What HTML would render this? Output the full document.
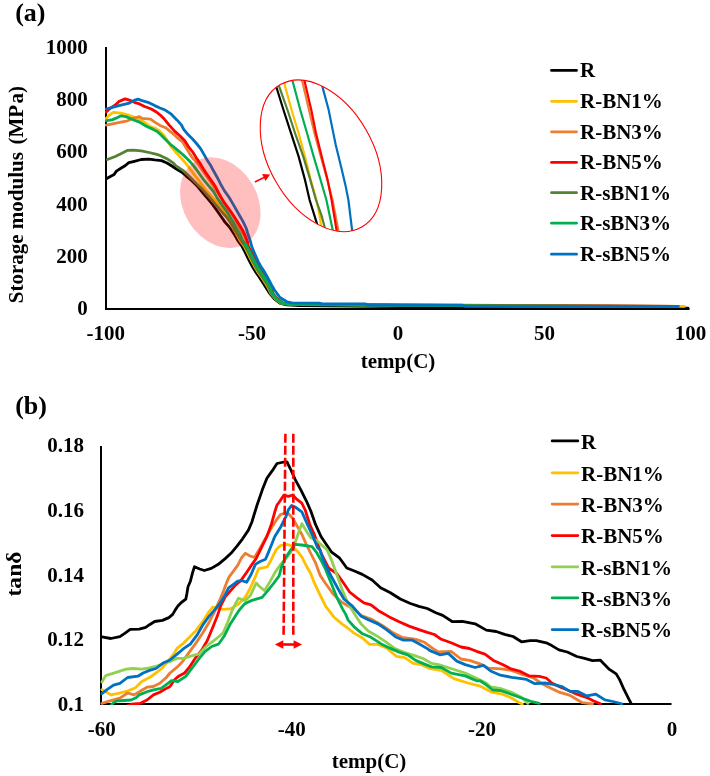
<!DOCTYPE html>
<html><head><meta charset="utf-8"><style>
html,body{margin:0;padding:0;background:#fff;width:710px;height:776px;overflow:hidden;}
svg{display:block;will-change:transform;font-family:"Liberation Serif", serif;font-weight:bold;}
</style></head><body>
<svg width="710" height="776" viewBox="0 0 710 776">
<rect width="710" height="776" fill="#fff"/>
<defs><clipPath id="clipZ"><ellipse cx="321" cy="155.8" rx="52" ry="82" transform="rotate(-29.7 321 155.8)"/></clipPath><clipPath id="clipA"><rect x="105" y="40" width="585" height="270"/></clipPath><clipPath id="clipB"><rect x="100" y="430" width="572" height="275"/></clipPath></defs>
<text x="15.2" y="21.3" font-size="26" text-anchor="start" >(a)</text>
<text x="87.8" y="53.7" font-size="21" text-anchor="end" >1000</text>
<text x="87.8" y="106.0" font-size="21" text-anchor="end" >800</text>
<text x="87.8" y="158.4" font-size="21" text-anchor="end" >600</text>
<text x="87.8" y="210.7" font-size="21" text-anchor="end" >400</text>
<text x="87.8" y="263.1" font-size="21" text-anchor="end" >200</text>
<text x="87.8" y="315.4" font-size="21" text-anchor="end" >0</text>
<text x="105.7" y="340.4" font-size="21" text-anchor="middle" >-100</text>
<text x="251.9" y="340.4" font-size="21" text-anchor="middle" >-50</text>
<text x="398.1" y="340.4" font-size="21" text-anchor="middle" >0</text>
<text x="544.4" y="340.4" font-size="21" text-anchor="middle" >50</text>
<text x="690.6" y="340.4" font-size="21" text-anchor="middle" >100</text>
<text x="398" y="368.4" font-size="21" text-anchor="middle" >temp(C)</text>
<text transform="translate(23.2,303.2) rotate(-90)" font-size="21">Storage modulus</text>
<text transform="translate(23.2,144.6) rotate(-90)" font-size="21">(MP</text>
<text transform="translate(23.2,103.4) rotate(-90)" font-size="21">a)</text>
<path d="M106,47 L106,309 L689.5,309" fill="none" stroke="#000" stroke-width="2"/>
<g clip-path="url(#clipA)">
<path d="M106.8,178.5 L110.8,176.2 L114.1,174.5 L116.4,171.1 L120.9,168.3 L125.4,165.5 L128.8,162.7 L134.4,161.3 L141.2,159.5 L149.1,159.1 L154.7,159.9 L161.5,160.6 L167.0,163.0 L172.7,166.5 L176.0,168.9 L181.9,172.3 L185.9,175.8 L191.8,180.7 L197.7,186.6 L202.6,192.5 L207.5,198.4 L212.5,204.4 L217.4,211.3 L222.3,218.2 L225.0,222.1 L229.9,227.7 L234.2,234.1 L237.7,240.4 L241.9,246.1 L245.2,252.4 L248.6,259.4 L252.4,266.5 L256.0,272.5 L259.2,277.0 L265.0,286.0 L269.7,293.4 L274.5,299.2 L280.3,303.3 L286.9,304.8 L300.0,305.6 L400.0,306.6 L500.0,307.3 L600.0,307.8 L688.0,308.2" fill="none" stroke="#000000" stroke-width="2.8" stroke-linejoin="round" stroke-linecap="round" />
<path d="M106.0,118.7 L109.0,115.4 L113.3,112.4 L120.9,113.2 L127.7,114.9 L133.6,117.0 L139.5,119.2 L145.4,123.0 L149.6,126.3 L154.7,128.0 L158.9,130.6 L164.0,135.5 L166.8,140.0 L170.5,145.8 L176.1,152.5 L182.9,160.0 L187.8,165.9 L193.7,173.8 L199.7,181.7 L205.6,189.6 L211.5,196.5 L217.4,203.4 L223.3,210.3 L227.8,217.0 L230.0,220.0 L232.0,226.0 L236.0,233.0 L239.9,240.4 L244.1,246.1 L247.4,252.4 L250.8,259.4 L254.6,266.5 L258.2,272.5 L261.4,277.0 L267.2,286.0 L270.8,293.4 L275.6,299.2 L281.4,303.3 L288.0,304.0 L300.0,304.4 L400.0,305.2 L500.0,305.7 L600.0,306.1 L684.5,306.4" fill="none" stroke="#FFC000" stroke-width="2.8" stroke-linejoin="round" stroke-linecap="round" />
<path d="M106.1,125.1 L112.5,123.8 L120.9,122.1 L127.7,120.8 L132.7,118.3 L139.5,116.6 L142.0,118.3 L150.5,119.2 L154.7,122.1 L158.9,124.6 L160.0,125.5 L165.6,127.7 L171.3,132.3 L176.9,137.3 L182.5,141.8 L185.9,147.5 L189.3,153.1 L192.7,158.2 L197.4,163.0 L201.9,169.5 L206.4,176.0 L210.9,182.5 L215.4,189.0 L219.9,196.0 L224.4,203.0 L228.9,210.0 L233.7,217.0 L240.2,229.0 L243.2,234.0 L245.5,239.0 L247.5,245.0 L251.0,252.4 L254.4,259.4 L258.2,266.5 L261.8,272.5 L265.0,277.0 L270.8,286.0 L272.6,293.4 L277.4,299.2 L283.2,303.3 L290.0,303.8 L300.0,304.3 L400.0,305.1 L500.0,305.6 L600.0,306.0 L678.0,306.3" fill="none" stroke="#ED7D31" stroke-width="2.8" stroke-linejoin="round" stroke-linecap="round" />
<path d="M106.0,112.1 L110.0,108.5 L115.0,105.2 L119.2,101.4 L125.1,98.9 L129.4,100.1 L134.4,102.3 L139.5,103.9 L144.6,106.5 L151.3,109.0 L156.4,112.0 L160.0,114.8 L164.5,119.3 L169.0,124.9 L174.6,131.1 L180.3,136.2 L184.8,140.7 L188.2,146.3 L192.7,152.0 L196.1,157.6 L200.0,163.2 L203.4,168.9 L206.6,173.8 L211.5,180.7 L215.4,186.6 L218.4,192.5 L223.3,201.4 L229.2,209.3 L233.5,215.5 L236.3,220.0 L239.5,225.0 L242.5,230.0 L244.5,234.0 L246.3,238.5 L247.8,242.5 L248.2,246.1 L251.5,252.4 L254.9,259.4 L258.7,266.5 L262.3,272.5 L265.5,277.0 L271.3,286.0 L272.8,293.4 L277.6,299.2 L283.4,303.3 L290.0,303.6 L300.0,304.2 L400.0,305.0 L500.0,305.5 L600.0,305.9 L678.0,306.5" fill="none" stroke="#FF0000" stroke-width="2.8" stroke-linejoin="round" stroke-linecap="round" />
<path d="M107.4,159.5 L115.3,156.5 L120.9,153.7 L127.7,150.3 L133.3,150.1 L141.2,150.8 L149.1,152.5 L155.8,154.2 L160.0,155.4 L166.8,158.7 L173.5,163.2 L176.0,165.9 L182.9,170.4 L188.8,175.8 L195.7,182.7 L202.6,189.6 L209.5,197.5 L215.4,204.4 L221.4,211.3 L227.3,218.2 L232.2,225.1 L235.5,231.0 L238.5,236.0 L241.2,240.4 L245.0,246.1 L248.3,252.4 L251.7,259.4 L255.5,266.5 L259.1,272.5 L262.3,277.0 L268.1,286.0 L271.2,293.4 L276.1,299.2 L281.9,303.3 L289.0,304.2 L300.0,304.6 L400.0,305.4 L500.0,305.9 L600.0,306.3 L678.0,306.6" fill="none" stroke="#548235" stroke-width="2.8" stroke-linejoin="round" stroke-linecap="round" />
<path d="M106.1,120.8 L112.5,119.6 L116.7,117.9 L120.9,115.8 L126.0,116.6 L131.9,119.2 L139.5,122.1 L146.3,126.3 L152.2,128.9 L157.2,131.4 L160.5,134.5 L164.5,138.5 L170.1,144.1 L175.8,148.6 L182.5,154.2 L188.5,160.0 L193.7,165.9 L198.7,172.8 L203.6,179.7 L208.5,185.6 L213.5,191.5 L217.4,198.4 L222.3,205.4 L227.3,212.3 L231.3,219.0 L234.0,223.5 L237.0,229.2 L240.0,234.0 L242.6,240.4 L246.8,246.1 L250.1,252.4 L253.5,259.4 L257.3,266.5 L260.9,272.5 L264.1,277.0 L269.9,286.0 L272.1,293.4 L276.9,299.2 L282.8,303.3 L289.0,304.0 L300.0,304.5 L400.0,305.3 L500.0,305.8 L600.0,306.2 L678.0,306.5" fill="none" stroke="#00B050" stroke-width="2.8" stroke-linejoin="round" stroke-linecap="round" />
<path d="M106.1,109.0 L112.5,107.3 L120.9,105.2 L129.4,103.1 L133.6,100.6 L137.8,99.1 L142.0,100.6 L148.0,102.3 L154.7,105.6 L160.0,108.0 L165.6,110.3 L171.3,114.2 L176.9,119.9 L181.4,124.9 L183.7,129.4 L187.0,133.4 L191.5,137.9 L196.1,143.0 L200.6,148.6 L204.5,155.4 L207.3,160.4 L210.7,165.5 L213.5,170.8 L217.4,177.7 L220.4,183.7 L224.3,190.6 L229.2,197.5 L233.2,204.4 L237.1,211.3 L241.1,218.2 L244.0,223.5 L246.3,228.5 L247.6,233.0 L249.3,238.0 L250.6,242.0 L251.9,247.0 L254.0,252.0 L256.0,256.5 L258.2,261.6 L260.6,266.0 L263.3,270.0 L266.2,275.0 L268.9,280.0 L271.5,285.0 L274.5,290.0 L280.0,297.5 L286.9,301.8 L292.0,302.8 L319.0,303.1 L322.4,303.9 L365.0,303.9 L368.0,305.1 L462.0,305.1 L465.0,306.3 L678.0,306.3" fill="none" stroke="#0070C0" stroke-width="2.8" stroke-linejoin="round" stroke-linecap="round" />
</g>
<ellipse cx="220.3" cy="202.6" rx="37" ry="48.1" transform="rotate(-31 220.3 202.6)" fill="rgb(255,0,0)" fill-opacity="0.25"/>
<g clip-path="url(#clipZ)">
<path d="M270.5,68.0 L276.8,88.5 L283.5,110.0 L291.0,133.2 L298.6,156.4 L304.9,179.6 L309.6,200.0 L316.5,222.1 L320.0,236.0" fill="none" stroke="#000000" stroke-width="2.2" stroke-linejoin="round" stroke-linecap="round" />
<path d="M279.0,66.0 L284.4,83.9 L291.6,110.0 L298.6,133.2 L304.9,156.4 L310.7,179.6 L316.5,200.0 L319.6,215.4 L322.5,236.0" fill="none" stroke="#FFC000" stroke-width="2.2" stroke-linejoin="round" stroke-linecap="round" />
<path d="M297.5,66.0 L302.3,81.3 L309.0,110.0 L314.5,133.2 L320.8,156.4 L327.3,179.6 L332.5,200.0 L339.5,236.0" fill="none" stroke="#ED7D31" stroke-width="2.2" stroke-linejoin="round" stroke-linecap="round" />
<path d="M300.0,66.0 L304.6,81.3 L311.3,110.0 L316.0,133.2 L321.7,156.4 L327.5,179.6 L331.6,200.0 L337.5,236.0" fill="none" stroke="#FF0000" stroke-width="2.2" stroke-linejoin="round" stroke-linecap="round" />
<path d="M273.5,66.0 L279.3,86.8 L287.5,110.0 L295.0,133.0 L303.2,156.4 L310.0,179.0 L316.0,200.0 L321.5,215.4 L327.0,236.0" fill="none" stroke="#548235" stroke-width="2.2" stroke-linejoin="round" stroke-linecap="round" />
<path d="M288.0,66.0 L292.8,81.8 L300.3,110.0 L307.0,133.0 L313.6,156.4 L320.0,178.0 L326.4,200.0 L332.5,228.9 L334.0,236.0" fill="none" stroke="#00B050" stroke-width="2.2" stroke-linejoin="round" stroke-linecap="round" />
<path d="M319.0,72.0 L322.8,88.1 L328.7,110.0 L331.0,121.6 L335.7,144.8 L341.4,168.0 L345.5,185.4 L348.4,200.0 L352.0,229.3 L352.8,236.0" fill="none" stroke="#0070C0" stroke-width="2.2" stroke-linejoin="round" stroke-linecap="round" />
</g>
<ellipse cx="321" cy="155.8" rx="52" ry="82" transform="rotate(-29.7 321 155.8)" fill="none" stroke="#FF0000" stroke-width="1.1"/>
<line x1="254.9" y1="182" x2="264" y2="177.5" stroke="#FF0000" stroke-width="1.5"/>
<path d="M270.1,174.4 L262.1,174.1 L265.5,180.9 Z" fill="#FF0000"/>
<line x1="551.5" y1="70.4" x2="576.5" y2="70.4" stroke="#000000" stroke-width="2.8" stroke-linecap="round"/>
<text x="580" y="77.2" font-size="21" text-anchor="start" >R</text>
<line x1="551.5" y1="101.3" x2="576.5" y2="101.3" stroke="#FFC000" stroke-width="2.8" stroke-linecap="round"/>
<text x="580" y="108.1" font-size="21" text-anchor="start" >R-BN1%</text>
<line x1="551.5" y1="131.8" x2="576.5" y2="131.8" stroke="#ED7D31" stroke-width="2.8" stroke-linecap="round"/>
<text x="580" y="138.6" font-size="21" text-anchor="start" >R-BN3%</text>
<line x1="551.5" y1="162.4" x2="576.5" y2="162.4" stroke="#FF0000" stroke-width="2.8" stroke-linecap="round"/>
<text x="580" y="169.2" font-size="21" text-anchor="start" >R-BN5%</text>
<line x1="551.5" y1="192.7" x2="576.5" y2="192.7" stroke="#548235" stroke-width="2.8" stroke-linecap="round"/>
<text x="580" y="199.5" font-size="21" text-anchor="start" >R-sBN1%</text>
<line x1="551.5" y1="223.2" x2="576.5" y2="223.2" stroke="#00B050" stroke-width="2.8" stroke-linecap="round"/>
<text x="580" y="230.0" font-size="21" text-anchor="start" >R-sBN3%</text>
<line x1="551.5" y1="254.2" x2="576.5" y2="254.2" stroke="#0070C0" stroke-width="2.8" stroke-linecap="round"/>
<text x="580" y="261.0" font-size="21" text-anchor="start" >R-sBN5%</text>
<text x="15.2" y="414.2" font-size="26" text-anchor="start" >(b)</text>
<text x="84" y="452.3" font-size="21" text-anchor="end" >0.18</text>
<text x="84" y="517.0" font-size="21" text-anchor="end" >0.16</text>
<text x="84" y="582.0" font-size="21" text-anchor="end" >0.14</text>
<text x="84" y="646.4" font-size="21" text-anchor="end" >0.12</text>
<text x="84" y="710.7" font-size="21" text-anchor="end" >0.1</text>
<text x="101.8" y="735.6" font-size="21" text-anchor="middle" >-60</text>
<text x="291.8" y="735.6" font-size="21" text-anchor="middle" >-40</text>
<text x="481.9" y="735.6" font-size="21" text-anchor="middle" >-20</text>
<text x="671.9" y="735.6" font-size="21" text-anchor="middle" >0</text>
<text x="369" y="767.7" font-size="21" text-anchor="middle" >temp(C)</text>
<text transform="translate(21,574) rotate(-90)" font-size="21" text-anchor="middle" textLength="45" lengthAdjust="spacingAndGlyphs">tanδ</text>
<path d="M101,446 L101,704 L671.5,704" fill="none" stroke="#000" stroke-width="2"/>
<g clip-path="url(#clipB)">
<path d="M101.9,636.9 L110.9,638.5 L119.9,636.7 L125.1,633.1 L130.2,629.4 L139.2,629.2 L145.7,627.3 L149.5,624.7 L154.7,621.5 L162.4,620.4 L168.9,617.6 L172.7,614.4 L175.3,609.9 L177.9,606.0 L181.3,602.5 L185.8,599.2 L186.9,593.5 L188.0,586.8 L190.4,581.2 L192.8,571.9 L194.5,566.7 L199.7,569.0 L204.3,570.5 L211.3,568.4 L218.3,564.3 L225.2,558.6 L231.0,553.3 L236.8,546.4 L242.6,538.8 L248.4,530.1 L251.9,522.0 L254.3,514.0 L257.1,505.0 L262.4,489.6 L266.9,478.3 L272.5,470.4 L277.0,463.5 L284.0,462.0 L287.0,461.8 L290.6,469.3 L295.1,479.4 L300.7,489.6 L306.3,500.8 L310.8,511.0 L315.4,524.2 L321.0,536.5 L325.5,543.3 L331.3,551.8 L339.7,558.2 L346.8,568.0 L353.8,570.8 L362.3,574.4 L372.1,580.0 L380.6,587.7 L390.4,592.7 L400.3,599.0 L410.4,603.5 L418.9,606.3 L427.3,608.5 L435.8,612.7 L442.7,615.4 L452.5,621.7 L462.4,621.3 L475.1,623.8 L486.3,630.1 L496.2,631.5 L504.6,634.4 L513.1,636.5 L521.5,641.8 L530.0,640.7 L536.3,640.7 L546.2,642.8 L551.8,645.6 L558.9,649.9 L567.3,652.0 L576.8,656.5 L584.6,658.4 L592.5,660.6 L600.4,660.2 L603.8,663.8 L609.4,669.4 L616.2,673.9 L619.6,679.6 L624.1,689.7 L628.6,698.7 L631.4,703.8" fill="none" stroke="#000000" stroke-width="2.8" stroke-linejoin="round" stroke-linecap="round" />
<path d="M101.9,689.7 L105.7,691.7 L110.9,694.9 L117.3,693.6 L127.6,691.0 L135.4,687.8 L141.8,681.4 L149.5,677.5 L156.0,673.0 L162.4,667.8 L168.9,660.1 L174.0,653.7 L176.8,648.7 L182.4,644.2 L189.2,637.5 L195.9,630.7 L202.7,621.7 L208.3,612.7 L212.8,607.0 L218.5,608.7 L224.1,609.3 L230.8,608.7 L235.4,605.9 L238.5,604.1 L245.2,597.3 L250.3,588.0 L254.5,578.7 L258.7,568.6 L261.3,568.1 L267.2,566.9 L270.6,561.0 L273.9,554.2 L275.9,550.1 L280.4,545.6 L286.1,544.4 L291.7,545.6 L297.3,551.2 L301.8,556.8 L306.3,565.8 L310.8,573.7 L314.2,582.7 L320.0,594.8 L325.6,606.1 L334.1,617.3 L342.5,624.4 L347.0,627.5 L354.1,633.1 L362.5,638.0 L369.6,644.4 L378.0,644.4 L386.5,647.9 L396.3,656.3 L404.8,657.7 L413.2,663.4 L421.7,664.8 L428.7,668.3 L441.3,670.3 L453.9,678.7 L468.0,683.0 L479.3,685.8 L484.9,688.6 L491.3,692.1 L502.5,694.2 L511.0,697.7 L519.4,702.7 L522.3,704.0" fill="none" stroke="#FFC000" stroke-width="2.8" stroke-linejoin="round" stroke-linecap="round" />
<path d="M101.9,703.3 L110.9,700.7 L119.9,698.1 L127.6,693.0 L134.1,694.9 L140.5,691.0 L147.0,687.2 L153.4,686.5 L159.8,683.3 L166.3,677.5 L170.0,673.0 L176.8,667.4 L182.4,661.8 L188.0,653.9 L195.9,643.1 L202.7,633.0 L209.4,621.7 L215.1,610.4 L219.6,600.3 L223.0,592.4 L226.3,583.4 L229.0,577.0 L233.3,571.3 L238.0,564.9 L241.4,558.0 L245.3,553.3 L249.6,555.7 L254.3,557.5 L259.0,550.1 L264.6,539.9 L270.3,529.8 L275.9,520.8 L280.4,514.6 L283.8,513.5 L288.3,513.5 L292.8,518.5 L297.3,526.4 L301.8,534.3 L306.3,544.4 L310.8,553.5 L315.4,562.5 L320.0,575.1 L325.6,583.5 L332.7,593.4 L341.1,601.8 L348.2,606.1 L353.8,608.9 L361.1,615.5 L371.0,619.0 L382.3,625.4 L393.5,633.1 L402.0,637.3 L416.1,639.4 L424.5,642.3 L433.0,648.6 L438.5,652.0 L451.1,651.3 L461.0,659.0 L469.4,660.4 L482.1,664.6 L488.5,668.2 L501.1,668.9 L511.0,670.3 L522.3,674.5 L533.5,678.0 L542.0,683.7 L550.4,687.9 L558.9,692.1 L565.9,694.2 L570.0,695.4 L575.6,698.7 L582.4,702.7 L592.5,704.0" fill="none" stroke="#ED7D31" stroke-width="2.8" stroke-linejoin="round" stroke-linecap="round" />
<path d="M101.0,708.0 L124.0,708.0 L128.0,705.5 L131.5,704.2 L140.5,703.3 L147.0,700.0 L153.4,694.9 L159.8,692.3 L166.3,688.4 L170.0,686.6 L174.5,679.8 L179.0,675.9 L184.6,673.0 L189.2,667.4 L195.9,657.3 L201.5,650.5 L207.2,640.8 L212.8,627.3 L217.3,616.1 L220.7,605.9 L225.2,596.9 L230.0,591.4 L235.1,585.5 L241.0,580.4 L246.9,572.0 L252.0,564.4 L256.2,558.5 L261.3,547.8 L266.9,536.5 L271.4,524.2 L274.8,511.8 L277.0,505.0 L279.3,502.0 L283.8,495.2 L288.3,496.3 L292.8,495.2 L297.3,499.7 L301.8,503.1 L305.2,510.0 L309.7,524.2 L314.2,534.3 L318.7,546.7 L321.4,553.9 L328.5,568.0 L336.9,573.7 L343.9,583.5 L349.6,592.0 L356.6,597.6 L363.9,602.8 L371.0,604.9 L379.4,611.3 L389.3,616.9 L399.2,621.8 L409.0,626.1 L418.9,629.6 L427.3,632.4 L434.4,634.5 L441.3,639.3 L451.1,642.8 L461.0,647.0 L469.4,648.5 L476.5,651.3 L484.9,654.1 L493.4,660.4 L502.5,664.6 L511.0,668.9 L519.4,671.0 L529.3,675.9 L539.2,676.3 L546.2,678.0 L551.8,683.0 L558.9,686.5 L567.3,690.0 L576.8,694.2 L586.9,697.6 L593.7,701.0 L600.4,703.8" fill="none" stroke="#FF0000" stroke-width="2.8" stroke-linejoin="round" stroke-linecap="round" />
<path d="M101.9,682.0 L105.7,675.6 L112.2,673.6 L119.9,671.1 L126.3,669.1 L132.8,668.5 L141.8,669.1 L149.5,667.8 L157.3,665.9 L162.4,664.0 L170.1,661.4 L176.8,658.4 L183.5,658.4 L192.5,655.6 L199.3,653.9 L206.1,646.5 L215.1,639.7 L223.0,633.0 L227.5,622.8 L232.3,610.0 L238.5,598.2 L245.2,600.7 L250.3,595.6 L256.2,583.0 L259.5,586.5 L264.6,590.6 L269.7,582.1 L274.8,572.8 L280.7,564.4 L285.8,558.5 L290.0,553.4 L292.8,548.9 L297.3,536.5 L301.8,523.6 L306.3,530.9 L310.8,537.7 L317.6,541.1 L320.5,544.1 L327.0,549.7 L331.3,559.6 L336.9,575.1 L342.5,590.6 L348.5,604.2 L355.5,615.5 L361.1,623.9 L368.2,631.0 L378.0,636.6 L386.5,642.3 L394.9,648.6 L403.4,652.1 L414.6,655.6 L423.1,658.5 L431.5,663.4 L438.5,664.6 L451.0,668.5 L465.0,673.0 L476.0,678.0 L486.0,683.0 L491.0,687.0 L500.0,688.3 L511.0,692.0 L521.0,697.0 L527.9,703.4" fill="none" stroke="#92D050" stroke-width="2.8" stroke-linejoin="round" stroke-linecap="round" />
<path d="M101.0,708.0 L109.0,708.0 L111.7,704.5 L114.0,702.2 L117.5,700.8 L123.8,700.5 L131.0,700.0 L136.0,697.8 L139.2,694.9 L147.0,691.7 L154.7,689.7 L161.1,688.4 L166.3,684.6 L171.4,680.7 L177.9,681.5 L185.8,676.4 L192.5,667.4 L199.3,658.4 L204.9,651.6 L207.2,649.9 L211.7,646.5 L218.5,644.2 L224.1,636.3 L229.7,625.1 L235.4,616.1 L239.3,610.0 L244.4,604.1 L251.1,600.7 L255.4,599.4 L262.1,597.3 L267.2,591.4 L273.9,583.0 L279.0,576.2 L281.6,566.9 L284.9,559.1 L290.6,550.1 L295.1,544.4 L301.8,545.0 L312.0,546.7 L316.5,552.3 L321.0,560.2 L325.6,569.4 L331.3,583.5 L336.9,597.6 L342.5,608.9 L345.6,614.1 L348.2,620.1 L354.1,626.8 L362.5,633.8 L371.0,637.3 L380.8,643.7 L389.3,647.9 L399.2,652.1 L407.6,654.9 L416.1,660.6 L424.5,664.1 L431.5,666.9 L441.3,667.5 L451.1,673.1 L465.2,675.9 L476.5,680.8 L480.0,680.8 L485.6,684.4 L492.7,690.0 L501.1,690.7 L511.0,694.2 L520.8,697.7 L530.7,701.3 L539.2,703.4" fill="none" stroke="#00B050" stroke-width="2.8" stroke-linejoin="round" stroke-linecap="round" />
<path d="M101.9,693.6 L107.0,689.7 L113.5,685.2 L119.9,683.3 L127.6,677.5 L137.9,676.2 L143.1,673.0 L149.5,670.4 L156.0,668.5 L163.7,662.7 L170.0,660.0 L176.8,654.4 L183.5,648.7 L190.3,644.2 L197.0,635.2 L202.7,625.1 L208.3,617.2 L215.1,609.3 L220.7,602.5 L225.2,594.6 L228.6,587.9 L233.1,584.5 L237.6,581.1 L242.1,580.6 L246.6,582.3 L251.1,574.5 L255.4,564.4 L259.6,561.8 L265.5,559.3 L268.0,553.4 L270.3,547.8 L274.8,536.5 L280.4,527.5 L286.1,516.3 L288.3,509.9 L291.7,505.4 L295.1,507.0 L301.8,511.8 L306.3,521.9 L312.0,534.3 L317.6,547.8 L320.0,549.7 L324.2,562.4 L331.3,576.5 L338.3,589.2 L343.9,599.0 L352.4,606.1 L360.8,615.9 L368.2,619.7 L378.0,623.9 L386.5,629.6 L396.3,637.3 L403.4,640.1 L411.8,640.1 L418.9,643.7 L427.3,648.6 L430.0,650.6 L439.9,654.8 L448.3,653.4 L456.8,661.1 L465.2,664.6 L475.1,667.5 L483.5,665.4 L490.6,671.0 L500.4,675.2 L511.7,677.3 L521.5,678.7 L526.5,679.4 L534.9,683.7 L544.8,683.0 L553.2,684.4 L561.7,686.5 L570.0,691.4 L577.9,691.4 L586.9,695.9 L595.9,694.2 L604.9,699.9 L612.8,701.5 L621.8,703.8" fill="none" stroke="#0070C0" stroke-width="2.8" stroke-linejoin="round" stroke-linecap="round" />
</g>
<line x1="285.4" y1="433.8" x2="283.6" y2="635" stroke="#FF0000" stroke-width="2.6" stroke-dasharray="9 3"/>
<line x1="293.3" y1="433.8" x2="293.3" y2="635" stroke="#FF0000" stroke-width="2.6" stroke-dasharray="9 3"/>
<line x1="281" y1="644.5" x2="296" y2="644.5" stroke="#FF0000" stroke-width="2.6"/>
<path d="M274.9,644.5 L283.3,640.3 L283.3,648.7 Z" fill="#FF0000"/>
<path d="M302,644.5 L293.6,640.3 L293.6,648.7 Z" fill="#FF0000"/>
<line x1="552.2" y1="440.9" x2="577.8" y2="440.9" stroke="#000000" stroke-width="2.8" stroke-linecap="round"/>
<text x="581" y="448.7" font-size="21" text-anchor="start" >R</text>
<line x1="552.2" y1="472.8" x2="577.8" y2="472.8" stroke="#FFC000" stroke-width="2.8" stroke-linecap="round"/>
<text x="581" y="480.6" font-size="21" text-anchor="start" >R-BN1%</text>
<line x1="552.2" y1="504.1" x2="577.8" y2="504.1" stroke="#ED7D31" stroke-width="2.8" stroke-linecap="round"/>
<text x="581" y="511.9" font-size="21" text-anchor="start" >R-BN3%</text>
<line x1="552.2" y1="535.6" x2="577.8" y2="535.6" stroke="#FF0000" stroke-width="2.8" stroke-linecap="round"/>
<text x="581" y="543.4" font-size="21" text-anchor="start" >R-BN5%</text>
<line x1="552.2" y1="566.8" x2="577.8" y2="566.8" stroke="#92D050" stroke-width="2.8" stroke-linecap="round"/>
<text x="581" y="574.6" font-size="21" text-anchor="start" >R-sBN1%</text>
<line x1="552.2" y1="597.9" x2="577.8" y2="597.9" stroke="#00B050" stroke-width="2.8" stroke-linecap="round"/>
<text x="581" y="605.7" font-size="21" text-anchor="start" >R-sBN3%</text>
<line x1="552.2" y1="629.6" x2="577.8" y2="629.6" stroke="#0070C0" stroke-width="2.8" stroke-linecap="round"/>
<text x="581" y="637.4" font-size="21" text-anchor="start" >R-sBN5%</text>
</svg></body></html>
